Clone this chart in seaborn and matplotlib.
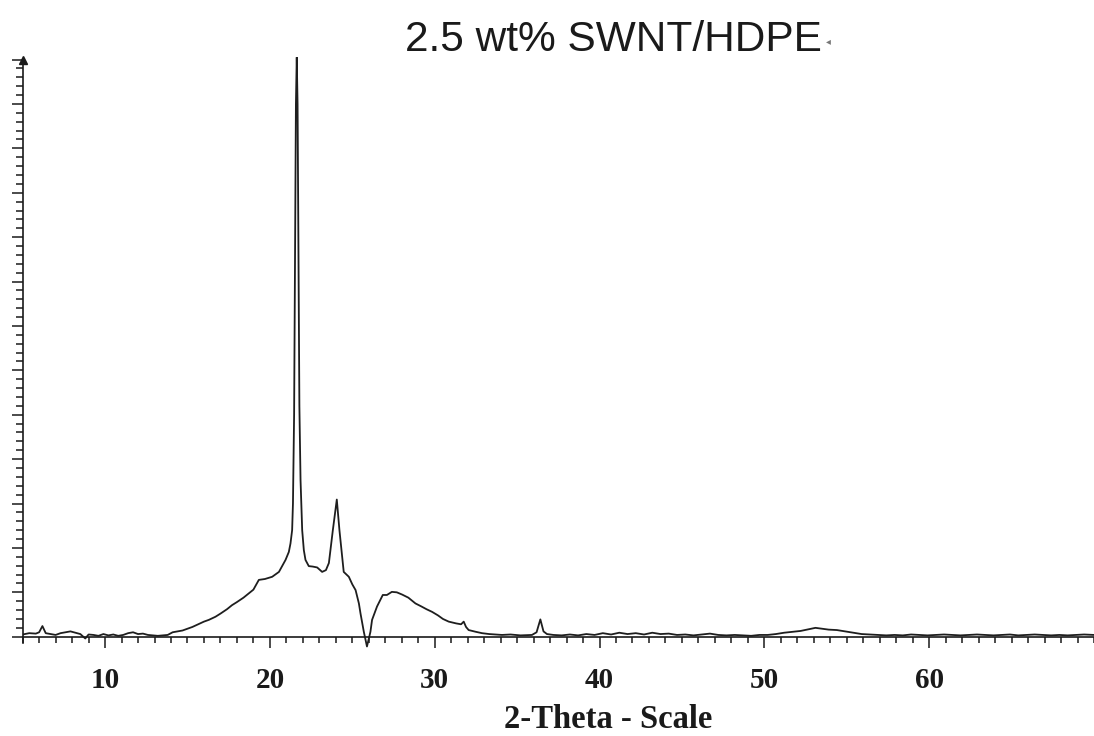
import matplotlib
matplotlib.use("Agg")
import matplotlib.pyplot as plt
import seaborn as sns
from matplotlib.ticker import MultipleLocator, FixedLocator

# ---- data (intensity in arbitrary counts) ----
two_theta = [
    5.0, 5.4, 5.8, 6.0, 6.2, 6.4, 6.7, 7.0, 7.3, 7.6, 7.9, 8.2, 8.5, 8.8, 9.0,
    9.3, 9.6, 9.9, 10.2, 10.5, 10.8, 11.1, 11.4, 11.7, 12.0, 12.3, 12.6, 12.9,
    13.2, 13.5, 13.8, 14.1, 14.4, 14.7, 15.0, 15.3, 15.7, 16.0, 16.3, 16.7,
    17.0, 17.4, 17.7, 18.0, 18.4, 18.7, 19.0, 19.33, 19.7, 20.14, 20.55, 20.95,
    21.15, 21.25, 21.35, 21.40, 21.47, 21.53, 21.58, 21.63, 21.68, 21.73, 21.79,
    21.86, 21.96, 22.06, 22.16, 22.36, 22.6, 22.87, 23.17, 23.4, 23.58, 23.82,
    24.06, 24.22, 24.42, 24.48, 24.79, 25.0, 25.2, 25.4, 25.5, 25.7, 25.89,
    26.1, 26.2, 26.5, 26.85, 27.1, 27.4, 27.7, 28.02, 28.4, 28.83, 29.2, 29.5,
    29.84, 30.2, 30.5, 30.85, 31.3, 31.6, 31.76, 31.9, 32.06, 32.5, 32.87,
    33.3, 34.08, 34.6, 35.2, 35.9, 36.18, 36.41, 36.6, 36.81,
    37.2, 37.7, 38.2, 38.7, 39.2, 39.7, 40.2, 40.7, 41.2, 41.7, 42.2, 42.7,
    43.2, 43.7, 44.2, 44.7, 45.2, 45.7, 46.2, 46.7, 47.2, 47.7, 48.2, 48.7,
    49.2, 49.7, 50.2, 50.7, 51.2, 51.7, 52.2, 52.7, 53.1, 53.5, 53.9, 54.4,
    54.9, 55.4, 55.9, 56.4, 56.9, 57.4, 57.9, 58.4, 58.9, 59.4, 59.9, 60.4,
    60.9, 61.4, 61.9, 62.4, 62.9, 63.4, 63.9, 64.4, 64.9, 65.4, 65.9, 66.4,
    66.9, 67.4, 67.9, 68.4, 68.9, 69.4, 70.0,
]
intensity = [
    5, 8, 7, 10, 24, 8, 6, 4, 8, 10, 12, 9, 6, -4, 5,
    4, 2, 6, 3, 5, 2, 4, 8, 10, 6, 7, 4, 3,
    2, 3, 4, 10, 12, 14, 18, 22, 29, 34, 38, 45,
    52, 62, 71, 78, 88, 97, 106, 128, 130, 135, 146, 173,
    191, 210, 240, 300, 500, 900, 1200, 1305, 1200, 900, 520,
    353, 240, 195, 173, 159, 158, 156, 146, 150, 166, 240,
    309, 240, 166, 146, 135, 118, 105, 75, 52, 11, -22,
    11, 38, 68, 94, 94, 101, 100, 95, 88, 75, 68, 62,
    56, 48, 40, 34, 30, 28, 34, 22, 15, 11, 8,
    6, 4, 5, 3, 4, 10, 39, 12, 6,
    4, 3, 5, 3, 6, 4, 8, 5, 9, 6, 8, 5,
    9, 6, 7, 4, 5, 3, 5, 7, 4, 3, 4, 3,
    2, 4, 4, 6, 9, 11, 13, 17, 20, 18, 16, 15,
    12, 9, 6, 5, 4, 3, 4, 3, 5, 4, 3, 4,
    5, 4, 3, 4, 5, 4, 3, 4, 5, 3, 4, 5,
    4, 3, 4, 3, 4, 5, 4,
]
x_tick_values = [10, 20, 30, 40, 50, 60]
x_tick_labels = ["10", "20", "30", "40", "50", "60"]
title_text = "2.5 wt% SWNT/HDPE"
x_label = "2-Theta - Scale"

# ---- figure ----
sns.set_style("white")
plt.rcParams["font.family"] = ["Liberation Sans", "DejaVu Sans"]

fig = plt.figure(figsize=(10.94, 7.36), dpi=100)
ax = fig.add_axes([0.0207, 0.1168, 0.9793, 0.8053])

sns.lineplot(x=two_theta, y=intensity, ax=ax, color="#1e1e1e",
             linewidth=1.3, estimator=None)

ax.set_xlim(5, 70)
ax.set_ylim(-30, 1305)

for s in ["top", "right"]:
    ax.spines[s].set_visible(False)
ax.spines["bottom"].set_position(("data", 0))
ax.spines["left"].set_bounds(-14, 1300)
for s in ["bottom", "left"]:
    ax.spines[s].set_linewidth(1.2)
    ax.spines[s].set_color("#1a1a1a")

ax.xaxis.set_major_locator(FixedLocator(x_tick_values))
ax.set_xticklabels(x_tick_labels)
ax.xaxis.set_minor_locator(MultipleLocator(1))
ax.yaxis.set_major_locator(FixedLocator(list(range(0, 1301, 100))))
ax.yaxis.set_minor_locator(FixedLocator(list(range(0, 1301, 20))))
ax.set_yticklabels([])

ax.tick_params(axis="x", which="both", bottom=True, top=False)
ax.tick_params(axis="y", which="both", left=True, right=False)
ax.tick_params(axis="x", which="major", direction="out", length=8, width=1.1,
               color="#1a1a1a", pad=14)
ax.tick_params(axis="x", which="minor", direction="out", length=4, width=1.1,
               color="#1a1a1a")
ax.tick_params(axis="y", which="major", direction="out", length=8, width=1.1,
               color="#1a1a1a")
ax.tick_params(axis="y", which="minor", direction="out", length=4.8, width=1.1,
               color="#1a1a1a")
for lab in ax.get_xticklabels():
    lab.set_fontfamily("Liberation Serif")
    lab.set_fontweight("bold")
    lab.set_fontsize(21)
    lab.set_color("#1a1a1a")

# arrow head on top of y axis
ax.plot([0], [1300], marker="^", color="#1a1a1a", markersize=6,
        transform=ax.get_yaxis_transform(), clip_on=False)

ax.set_xlabel("")
fig.text(608 / 1094, 1 - 719 / 736, x_label, family="Liberation Serif",
         fontweight="bold", fontsize=23.5, color="#1a1a1a",
         ha="center", va="center")

fig.text(613 / 1094, 1 - 51 / 736, title_text, fontsize=30.5, ha="center",
         va="baseline", color="#1a1a1a", family=["Liberation Sans", "DejaVu Sans"])
fig.text(828 / 1094, 1 - 41 / 736, "\u25c2", fontsize=7, ha="center",
         va="center", color="#777777", family=["DejaVu Sans"])

fig.savefig("out.png", dpi=100)
